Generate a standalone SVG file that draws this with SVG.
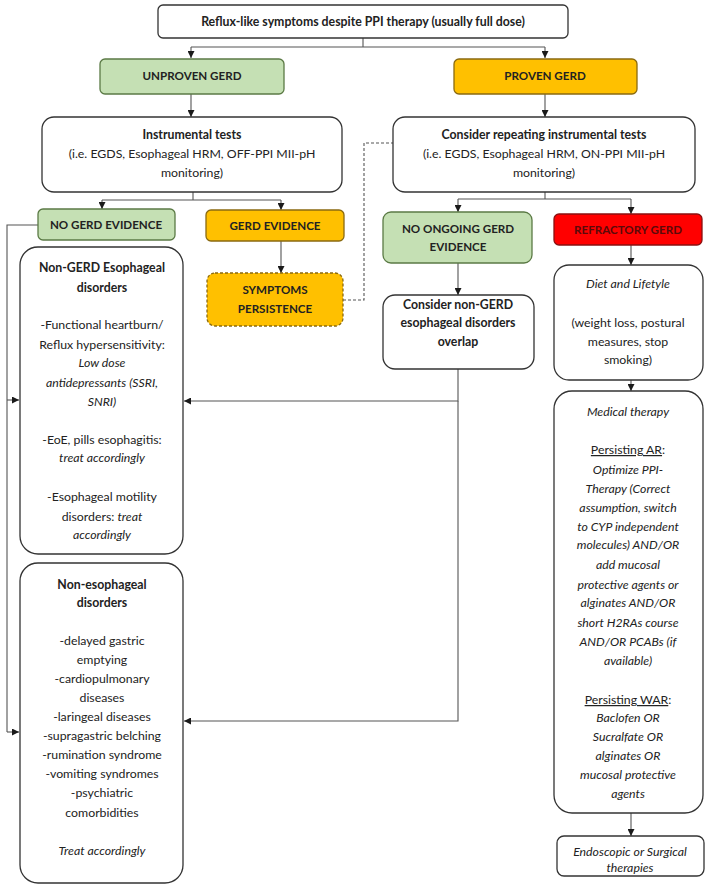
<svg xmlns="http://www.w3.org/2000/svg" width="708" height="892" viewBox="0 0 708 892">
<defs>
<marker id="ah" viewBox="0 0 8 8" refX="8" refY="4" markerWidth="7" markerHeight="7" markerUnits="userSpaceOnUse" orient="auto"><path d="M0,0 L8,4 L0,8 z" fill="#1a1a1a"/></marker>
<style>
text{font-family:Lato,"Liberation Sans",sans-serif;font-size:12.3px;fill:#222;text-anchor:middle}
.b{font-weight:bold}
.cap{font-size:11.6px}
.i{font-style:italic}
.box{fill:#fff;stroke:#333;stroke-width:1.3}
.grn{fill:#c5e0b4;stroke:#5b7a45;stroke-width:1.3}
.org{fill:#ffc000;stroke:#8a6a10;stroke-width:1.3}
.red{fill:#ff0000;stroke:#8a1010;stroke-width:1.3}
.dash{stroke-dasharray:3,2}
.c{fill:none;stroke:#555;stroke-width:1.1}
.arr{marker-end:url(#ah)}
</style>
</defs>
<g id="connectors">
<path class="c" d="M363,38 V47 M191,47 H545"/>
<path class="c arr" d="M191,47 V58"/>
<path class="c arr" d="M545,47 V58"/>
<path class="c arr" d="M191,94 V117"/>
<path class="c arr" d="M545,94 V117"/>
<path class="c" d="M193,192 V200 M102,200 H281"/>
<path class="c arr" d="M102,200 V209"/>
<path class="c arr" d="M281,200 V210"/>
<path class="c arr" d="M281,241 V273"/>
<path class="c" d="M545,192 V199 M458,199 H631"/>
<path class="c arr" d="M458,199 V212"/>
<path class="c arr" d="M631,199 V214"/>
<path class="c arr" d="M458,263 V295"/>
<path class="c arr" d="M631,245 V265"/>
<path class="c arr" d="M631,380 V391"/>
<path class="c arr" d="M631,813 V836"/>
<path class="c dash" d="M343,300 H364 V143 H393" stroke="#333"/>
<path class="c arr" d="M458,369 V401 H184"/>
<path class="c arr" d="M458,401 V721 H184"/>
<path class="c" d="M38,225 H7 V732"/>
<path class="c arr" d="M7,400 H19"/>
<path class="c arr" d="M7,732 H19"/>
</g>
<g id="n-top">
<rect class="box" x="158" y="5" width="410" height="33" rx="5"/>
<text class="b" x="363" y="26">Reflux-like symptoms despite PPI therapy (usually full dose)</text>
</g>
<g id="n-unproven">
<rect class="grn" x="100" y="59" width="184" height="35" rx="5"/>
<text class="b cap" x="192" y="80">UNPROVEN GERD</text>
</g>
<g id="n-proven">
<rect class="org" x="454" y="59" width="183" height="35" rx="5"/>
<text class="b cap" x="545" y="80">PROVEN GERD</text>
</g>
<g id="n-instr">
<rect class="box" x="42" y="117" width="300" height="75" rx="12"/>
<text class="b" x="192" y="139">Instrumental tests</text>
<text x="192" y="158">(i.e. EGDS, Esophageal HRM, OFF-PPI MII-pH</text>
<text x="192" y="177">monitoring)</text>
</g>
<g id="n-repeat">
<rect class="box" x="393" y="117" width="302" height="75" rx="12"/>
<text class="b" x="544" y="139">Consider repeating instrumental tests</text>
<text x="544" y="158">(i.e. EGDS, Esophageal HRM, ON-PPI MII-pH</text>
<text x="544" y="177">monitoring)</text>
</g>
<g id="n-nogerd">
<rect class="grn" x="38" y="209" width="137" height="31" rx="5"/>
<text class="b cap" x="106" y="229">NO GERD EVIDENCE</text>
</g>
<g id="n-gerd">
<rect class="org" x="206" y="210" width="138" height="31" rx="5"/>
<text class="b cap" x="275" y="230">GERD EVIDENCE</text>
</g>
<g id="n-persist">
<rect class="org dash" x="207" y="273" width="136" height="53" rx="8"/>
<text class="b cap" x="275" y="294">SYMPTOMS</text>
<text class="b cap" x="275" y="313">PERSISTENCE</text>
</g>
<g id="n-noongoing">
<rect class="grn" x="383" y="212" width="149" height="51" rx="8"/>
<text class="b cap" x="458" y="233">NO ONGOING GERD</text>
<text class="b cap" x="458" y="251">EVIDENCE</text>
</g>
<g id="n-refractory">
<rect class="red" x="554" y="214" width="148" height="31" rx="5"/>
<text class="b cap" x="628" y="234" style="fill:#5a0a0a">REFRACTORY GERD</text>
</g>
<g id="n-overlap">
<rect class="box" x="383" y="295" width="151" height="74" rx="12"/>
<text class="b" x="458" y="309">Consider non-GERD</text>
<text class="b" x="458" y="327">esophageal disorders</text>
<text class="b" x="458" y="346">overlap</text>
</g>
<g id="n-diet">
<rect class="box" x="554" y="265" width="149" height="115" rx="15"/>
<text class="i" x="628" y="288">Diet and Lifetyle</text>
<text x="628" y="327">(weight loss, postural</text>
<text x="628" y="346">measures, stop</text>
<text x="628" y="364">smoking)</text>
</g>
<g id="n-medical">
<rect class="box" x="554" y="391" width="149" height="422" rx="18"/>
<text class="i" x="628" y="416">Medical therapy</text>
<text x="628" y="454"><tspan text-decoration="underline">Persisting AR</tspan>:</text>
<text class="i" x="628" y="474">Optimize PPI-</text>
<text class="i" x="628" y="493">Therapy (Correct</text>
<text class="i" x="628" y="512">assumption,  switch</text>
<text class="i" x="628" y="531">to CYP independent</text>
<text class="i" x="628" y="549">molecules) AND/OR</text>
<text class="i" x="628" y="569">add mucosal</text>
<text class="i" x="628" y="589">protective agents or</text>
<text class="i" x="628" y="607">alginates AND/OR</text>
<text class="i" x="628" y="627">short H2RAs course</text>
<text class="i" x="628" y="646">AND/OR PCABs (if</text>
<text class="i" x="628" y="665">available)</text>
<text x="628" y="704"><tspan text-decoration="underline">Persisting WAR</tspan>:</text>
<text class="i" x="628" y="722">Baclofen OR</text>
<text class="i" x="628" y="741">Sucralfate OR</text>
<text class="i" x="628" y="760">alginates OR</text>
<text class="i" x="628" y="779">mucosal protective</text>
<text class="i" x="628" y="798">agents</text>
</g>
<g id="n-endo">
<rect class="box" x="557" y="836" width="147" height="40" rx="7"/>
<text class="i" x="630" y="856">Endoscopic or Surgical</text>
<text class="i" x="630" y="872">therapies</text>
</g>
<g id="n-nongerd">
<rect class="box" x="20" y="247" width="163" height="307" rx="18"/>
<text class="b" x="102" y="272">Non-GERD Esophageal</text>
<text class="b" x="102" y="292">disorders</text>
<text x="102" y="329">-Functional heartburn/</text>
<text x="102" y="349">Reflux hypersensitivity:</text>
<text class="i" x="102" y="367">Low dose</text>
<text class="i" x="102" y="387">antidepressants (SSRI,</text>
<text class="i" x="102" y="406">SNRI)</text>
<text x="102" y="444">-EoE, pills esophagitis:</text>
<text class="i" x="102" y="462">treat accordingly</text>
<text x="102" y="501">-Esophageal motility</text>
<text x="102" y="521">disorders: <tspan class="i">treat</tspan></text>
<text class="i" x="102" y="539">accordingly</text>
</g>
<g id="n-nonesoph">
<rect class="box" x="20" y="563" width="163" height="320" rx="18"/>
<text class="b" x="102" y="589">Non-esophageal</text>
<text class="b" x="102" y="607">disorders</text>
<text x="102" y="645">-delayed gastric</text>
<text x="102" y="664">emptying</text>
<text x="102" y="683">-cardiopulmonary</text>
<text x="102" y="702">diseases</text>
<text x="102" y="721">-laringeal diseases</text>
<text x="102" y="740">-supragastric belching</text>
<text x="102" y="759">-rumination syndrome</text>
<text x="102" y="778">-vomiting syndromes</text>
<text x="102" y="797">-psychiatric</text>
<text x="102" y="817">comorbidities</text>
<text class="i" x="102" y="855">Treat accordingly</text>
</g>
</svg>
